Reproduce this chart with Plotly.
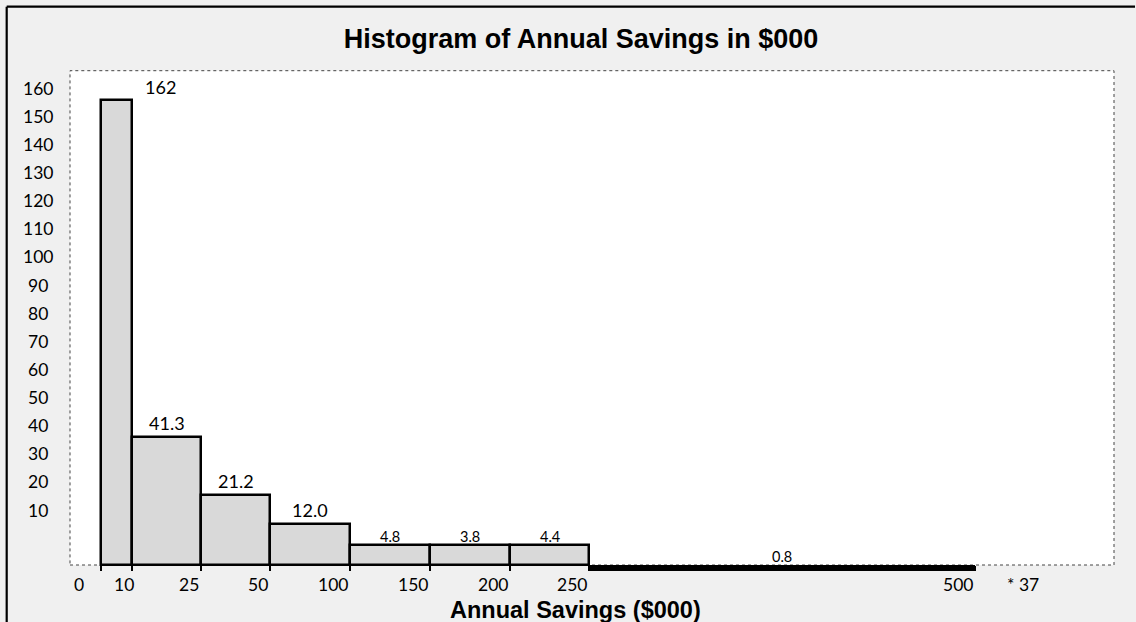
import plotly.graph_objects as go

# ---------------- data ----------------
bin_edges = [0, 10, 25, 50, 100, 150, 200, 250, 500]
bar_labels = ["162", "41.3", "21.2", "12.0", "4.8", "3.8", "4.4", "0.8"]
# drawn bar heights, in units of the vertical scale, measured up from the baseline
bar_heights = [165.2, 45.6, 24.9, 14.6, 7.1, 7.1, 7.1, 2.1]
y_tick_labels = [10, 20, 30, 40, 50, 60, 70, 80, 90, 100, 110, 120, 130, 140, 150, 160]
x_tick_labels = ["0", "10", "25", "50", "100", "150", "200", "250", "500"]
extra_label = "* 37"
title_text = "Histogram of Annual Savings in $000"
x_title_text = "Annual Savings ($000)"

# ---------------- drawn (non-linear) horizontal scale ----------------
edge_display = {0: 31, 10: 62, 25: 131, 50: 200, 100: 280, 150: 360,
                200: 440, 250: 519, 500: 905}
label_nudge = {"0": -15, "10": 4}
extra_label_pos = 953
AXIS_W = 1044
PX_PER_UNIT = 2.814
LABEL_OFFSET = 9.5

W, H = 1136, 622
L_PX, T_PX, R_PX = 68, 68, 1116
PLOT_LEFT, PLOT_TOP, PLOT_RIGHT, BASE_PX, PLOT_BOTTOM = 70, 70.7, 1114, 565, 572
PW, PH = R_PX - L_PX, PLOT_BOTTOM - T_PX

def px_to_paper_x(px):
    return (px - L_PX) / PW

def px_to_paper_y(py):
    return (PLOT_BOTTOM - py) / PH

x_range = [-(PLOT_LEFT - L_PX), AXIS_W + (R_PX - PLOT_RIGHT)]
y_range = [-(PLOT_BOTTOM - BASE_PX) / PX_PER_UNIT, (BASE_PX - T_PX) / PX_PER_UNIT]
y_frame_top = (BASE_PX - PLOT_TOP) / PX_PER_UNIT

lefts = [edge_display[e] for e in bin_edges[:-1]]
rights = [edge_display[e] for e in bin_edges[1:]]
centers = [(a + b) / 2 for a, b in zip(lefts, rights)]
widths = [b - a for a, b in zip(lefts, rights)]

n = len(bar_heights)
last = n - 1
bases = [0] * last + [-bar_heights[last]]
fills = ["#d9d9d9"] * last + ["#000000"]
line_w = [2.5] * last + [0]

fig = go.Figure()
fig.add_trace(go.Bar(
    x=centers, y=bar_heights, width=widths, base=bases,
    marker=dict(color=fills, line=dict(color="#000000", width=line_w)),
    hoverinfo="skip",
))

NUM_FONT = "Lato, Carlito, 'Open Sans', sans-serif"
BOLD_FONT = "'Liberation Sans', Arial, sans-serif"

annotations = []
for i, (c, h, lab) in enumerate(zip(centers, bar_heights, bar_labels)):
    small = i >= 4
    top = 0 if i == last else h
    annotations.append(dict(
        x=c, y=top, xref="x", yref="y", text=lab, showarrow=False,
        xanchor="center", yanchor="middle",
        xshift=43.5 if i == 0 else 0,
        yshift=9 if small else 13.5,
        font=dict(family=NUM_FONT, size=14.5 if small else 18, color="#000000"),
    ))
for v in y_tick_labels:
    annotations.append(dict(
        x=px_to_paper_x(38), y=v + LABEL_OFFSET, xref="paper", yref="y", text=str(v),
        showarrow=False, xanchor="center", yanchor="middle",
        font=dict(family=NUM_FONT, size=17.5, color="#000000"),
    ))
for e, lab in zip(bin_edges, x_tick_labels):
    annotations.append(dict(
        x=edge_display[e] + label_nudge.get(lab, 0), y=0, xref="x", yref="y",
        text=lab, showarrow=False, xanchor="right", yanchor="middle", yshift=-19.5,
        font=dict(family=NUM_FONT, size=17.5, color="#000000"),
    ))
annotations.append(dict(
    x=extra_label_pos, y=0, xref="x", yref="y", text=extra_label, showarrow=False,
    xanchor="center", yanchor="middle", yshift=-19.5,
    font=dict(family=NUM_FONT, size=17.5, color="#000000"),
))
annotations.append(dict(
    x=575 - PLOT_LEFT, y=0, xref="x", yref="y", text=x_title_text, showarrow=False,
    xanchor="center", yanchor="middle", yshift=-(609.5 - BASE_PX),
    font=dict(family=BOLD_FONT, size=23.5, color="#000000", weight="bold"),
))

shapes = [
    dict(type="rect", xref="x", yref="y", x0=0, x1=AXIS_W, y0=0, y1=y_frame_top,
         fillcolor="#ffffff", line=dict(color="#444444", width=1, dash="dot"),
         layer="below"),
    # outer black frame: top and left edges
    dict(type="line", xref="paper", yref="paper",
         x0=px_to_paper_x(6.7), x1=px_to_paper_x(W - 1),
         y0=px_to_paper_y(6.7), y1=px_to_paper_y(6.7),
         line=dict(color="#000000", width=2.2)),
    dict(type="line", xref="paper", yref="paper",
         x0=px_to_paper_x(6.7), x1=px_to_paper_x(6.7),
         y0=px_to_paper_y(6.7), y1=px_to_paper_y(H),
         line=dict(color="#000000", width=2.2)),
]

fig.update_layout(
    width=W, height=H,
    margin=dict(l=L_PX, r=W - R_PX, t=T_PX, b=H - PLOT_BOTTOM, pad=0),
    paper_bgcolor="#f0f0f0", plot_bgcolor="#f0f0f0",
    showlegend=False, bargap=0,
    title=dict(text=title_text, x=581 / W, xref="container", xanchor="center",
               y=1 - 38.3 / H, yref="container", yanchor="middle",
               font=dict(family=BOLD_FONT, size=27, color="#000000", weight="bold")),
    xaxis=dict(range=x_range, showgrid=False, zeroline=False, showline=False,
               showticklabels=False, ticks="outside", ticklen=5, tickwidth=2,
               tickcolor="#000000", tickmode="array",
               tickvals=[edge_display[e] for e in bin_edges[1:]] + [edge_display[0]],
               anchor="free", position=px_to_paper_y(BASE_PX), fixedrange=True),
    yaxis=dict(range=y_range, showgrid=False, zeroline=False, showline=False,
               showticklabels=False, ticks="", fixedrange=True),
    annotations=annotations,
    shapes=shapes,
)

fig.write_html("out.html", config={"displayModeBar": False})
